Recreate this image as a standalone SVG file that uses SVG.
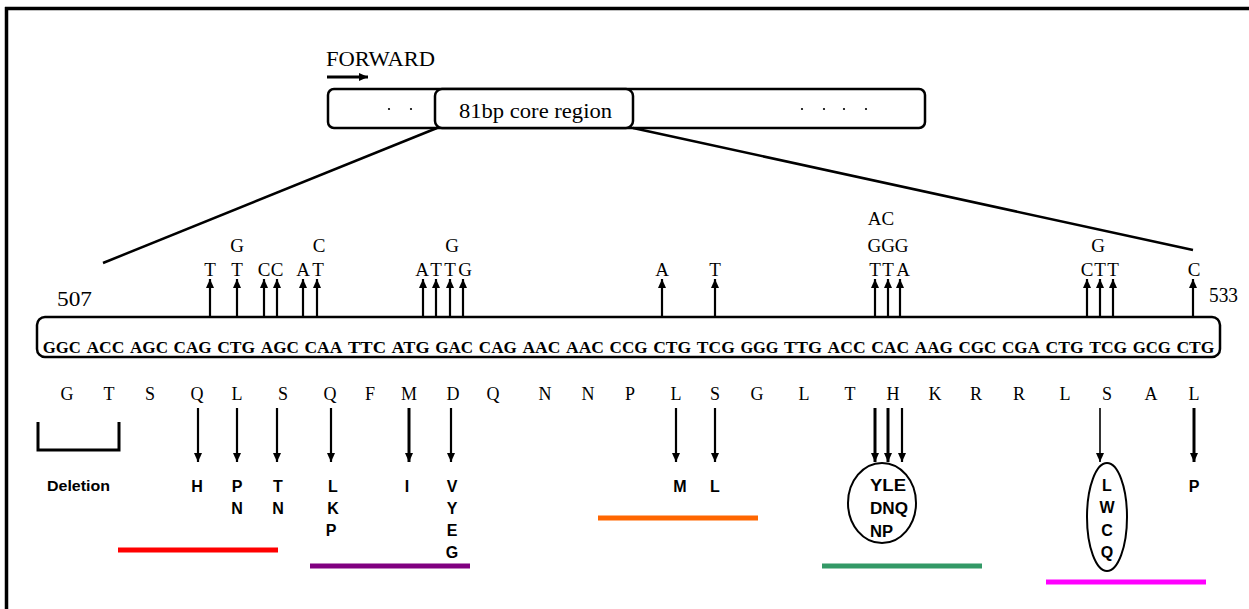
<svg xmlns="http://www.w3.org/2000/svg" width="1249" height="609" viewBox="0 0 1249 609">
<style>
.serif{font-family:"Liberation Serif","Times New Roman",serif;fill:#000}
.sans{font-family:"Liberation Sans",Arial,sans-serif;font-weight:bold;fill:#000}
.box{fill:#fff;stroke:#000;stroke-width:2.5}
.conn{stroke:#000;stroke-width:2.5;fill:none}
.arr{stroke:#000;stroke-width:2.2;fill:none}
.seq{font-family:"Liberation Serif","Times New Roman",serif;font-weight:bold;font-size:17px;text-anchor:middle}
.mut{font-size:19px;text-anchor:middle}
.aa{font-size:18px;text-anchor:middle}
.lab{font-size:16px;text-anchor:middle}
.bar{stroke-width:5}
</style>
<defs>
<marker id="ah" markerUnits="userSpaceOnUse" markerWidth="10" markerHeight="10" refX="9" refY="4" orient="auto">
<path d="M0,0 L9,4 L0,8 z" fill="#000"/>
</marker>
</defs>
<rect x="0" y="0" width="1249" height="609" fill="#fff"/>
<g id="frame">
<line x1="5" y1="8.5" x2="1249" y2="8.5" stroke="#000" stroke-width="3.5"/>
<line x1="6.5" y1="7" x2="6.5" y2="609" stroke="#000" stroke-width="3.5"/>
</g>
<g id="forward">
<text class="serif" x="326" y="66" font-size="20" textLength="109" lengthAdjust="spacingAndGlyphs">FORWARD</text>
<line x1="327" y1="77" x2="368" y2="77" stroke="#000" stroke-width="3" marker-end="url(#ah)"/>
</g>
<g id="gene-bar">
<rect class="box" x="328" y="89" width="597" height="39" rx="6"/>
<circle cx="389" cy="109" r="1.1" fill="#000"/>
<circle cx="411" cy="109" r="1.1" fill="#000"/>
<circle cx="802" cy="109" r="1.1" fill="#000"/>
<circle cx="824" cy="109" r="1.1" fill="#000"/>
<circle cx="844" cy="109" r="1.1" fill="#000"/>
<circle cx="866" cy="109" r="1.1" fill="#000"/>
</g>
<g id="core-region">
<rect class="box" x="435" y="89" width="198" height="39" rx="7"/>
<text class="serif" x="459" y="118" font-size="20" textLength="153" lengthAdjust="spacingAndGlyphs">81bp core region</text>
</g>
<g id="sequence">
<rect class="box" x="37" y="317" width="1183" height="40" rx="8"/>
<text class="serif" x="57" y="306" font-size="21" textLength="35" lengthAdjust="spacingAndGlyphs">507</text>
<text class="serif" x="1209" y="302" font-size="20" textLength="29" lengthAdjust="spacingAndGlyphs">533</text>
<g class="seq">
<text x="61.8" y="353" textLength="38" lengthAdjust="spacingAndGlyphs">GGC</text>
<text x="105.4" y="353" textLength="38" lengthAdjust="spacingAndGlyphs">ACC</text>
<text x="149" y="353" textLength="38" lengthAdjust="spacingAndGlyphs">AGC</text>
<text x="192.6" y="353" textLength="38" lengthAdjust="spacingAndGlyphs">CAG</text>
<text x="236.2" y="353" textLength="38" lengthAdjust="spacingAndGlyphs">CTG</text>
<text x="279.8" y="353" textLength="38" lengthAdjust="spacingAndGlyphs">AGC</text>
<text x="323.4" y="353" textLength="38" lengthAdjust="spacingAndGlyphs">CAA</text>
<text x="367" y="353" textLength="38" lengthAdjust="spacingAndGlyphs">TTC</text>
<text x="410.6" y="353" textLength="38" lengthAdjust="spacingAndGlyphs">ATG</text>
<text x="454.2" y="353" textLength="38" lengthAdjust="spacingAndGlyphs">GAC</text>
<text x="497.8" y="353" textLength="38" lengthAdjust="spacingAndGlyphs">CAG</text>
<text x="541.4" y="353" textLength="38" lengthAdjust="spacingAndGlyphs">AAC</text>
<text x="585" y="353" textLength="38" lengthAdjust="spacingAndGlyphs">AAC</text>
<text x="628.6" y="353" textLength="38" lengthAdjust="spacingAndGlyphs">CCG</text>
<text x="672.2" y="353" textLength="38" lengthAdjust="spacingAndGlyphs">CTG</text>
<text x="715.8" y="353" textLength="38" lengthAdjust="spacingAndGlyphs">TCG</text>
<text x="759.4" y="353" textLength="38" lengthAdjust="spacingAndGlyphs">GGG</text>
<text x="803" y="353" textLength="38" lengthAdjust="spacingAndGlyphs">TTG</text>
<text x="846.6" y="353" textLength="38" lengthAdjust="spacingAndGlyphs">ACC</text>
<text x="890.2" y="353" textLength="38" lengthAdjust="spacingAndGlyphs">CAC</text>
<text x="933.8" y="353" textLength="38" lengthAdjust="spacingAndGlyphs">AAG</text>
<text x="977.4" y="353" textLength="38" lengthAdjust="spacingAndGlyphs">CGC</text>
<text x="1021" y="353" textLength="38" lengthAdjust="spacingAndGlyphs">CGA</text>
<text x="1064.6" y="353" textLength="38" lengthAdjust="spacingAndGlyphs">CTG</text>
<text x="1108.2" y="353" textLength="38" lengthAdjust="spacingAndGlyphs">TCG</text>
<text x="1151.8" y="353" textLength="38" lengthAdjust="spacingAndGlyphs">GCG</text>
<text x="1195.4" y="353" textLength="38" lengthAdjust="spacingAndGlyphs">CTG</text>
</g>
</g>
<g id="base-mutations" class="serif mut">
<text x="210" y="276">T</text>
<text x="237" y="252">G</text>
<text x="237" y="276">T</text>
<text x="264" y="276">C</text>
<text x="277" y="276">C</text>
<text x="319" y="252">C</text>
<text x="303" y="276">A</text>
<text x="318" y="276">T</text>
<text x="452" y="252">G</text>
<text x="422" y="276">A</text>
<text x="436" y="276">T</text>
<text x="450" y="276">T</text>
<text x="465" y="276">G</text>
<text x="662" y="276">A</text>
<text x="715" y="276">T</text>
<text x="881" y="225">AC</text>
<text x="888" y="252">GGG</text>
<text x="875" y="276">T</text>
<text x="888" y="276">T</text>
<text x="903" y="276">A</text>
<text x="1098" y="252">G</text>
<text x="1087" y="276">C</text>
<text x="1100" y="276">T</text>
<text x="1113" y="276">T</text>
<text x="1194" y="276">C</text>
</g>
<g id="amino-acids" class="serif aa">
<text x="67" y="400">G</text>
<text x="109" y="400">T</text>
<text x="150" y="400">S</text>
<text x="197" y="400">Q</text>
<text x="237" y="400">L</text>
<text x="283" y="400">S</text>
<text x="330" y="400">Q</text>
<text x="370" y="400">F</text>
<text x="409" y="400">M</text>
<text x="453" y="400">D</text>
<text x="493" y="400">Q</text>
<text x="545" y="400">N</text>
<text x="588" y="400">N</text>
<text x="630" y="400">P</text>
<text x="676" y="400">L</text>
<text x="715" y="400">S</text>
<text x="757" y="400">G</text>
<text x="804" y="400">L</text>
<text x="850" y="400">T</text>
<text x="893" y="400">H</text>
<text x="935" y="400">K</text>
<text x="976" y="400">R</text>
<text x="1019" y="400">R</text>
<text x="1065" y="400">L</text>
<text x="1107" y="400">S</text>
<text x="1151" y="400">A</text>
<text x="1194" y="400">L</text>
</g>
<g id="deletion">
<path d="M38,422 V450 H119 V422" fill="none" stroke="#000" stroke-width="3"/>
<text class="sans" x="47" y="491" font-size="15" textLength="63" lengthAdjust="spacingAndGlyphs">Deletion</text>
</g>
<g id="aa-mutations" class="sans lab">
<text x="197" y="492">H</text>
<text x="237" y="492">P</text>
<text x="237" y="514">N</text>
<text x="278" y="492">T</text>
<text x="278" y="514">N</text>
<text x="333" y="492">L</text>
<text x="333" y="514">K</text>
<text x="331" y="536">P</text>
<text x="407" y="492">I</text>
<text x="452" y="492">V</text>
<text x="452" y="514">Y</text>
<text x="452" y="536">E</text>
<text x="452" y="558">G</text>
<text x="680" y="492">M</text>
<text x="715" y="492">L</text>
<text x="1194" y="492">P</text>
</g>
<g id="h-group">
<ellipse cx="882" cy="503" rx="34" ry="40" fill="none" stroke="#000" stroke-width="2"/>
<text class="sans" x="870" y="491" font-size="16" textLength="36" lengthAdjust="spacingAndGlyphs">YLE</text>
<text class="sans" x="870" y="514" font-size="16" textLength="38" lengthAdjust="spacingAndGlyphs">DNQ</text>
<text class="sans" x="870" y="537" font-size="16" textLength="23" lengthAdjust="spacingAndGlyphs">NP</text>
</g>
<g id="s-group">
<ellipse cx="1107" cy="517" rx="20" ry="54" fill="none" stroke="#000" stroke-width="2"/>
<g class="sans lab">
<text x="1107" y="491">L</text>
<text x="1107" y="513">W</text>
<text x="1107" y="536">C</text>
<text x="1107" y="558">Q</text>
</g>
</g>
<g id="regions">
<line class="bar" x1="118" y1="550" x2="278" y2="550" stroke="#FF0000"/>
<line class="bar" x1="310" y1="566" x2="470" y2="566" stroke="#800080"/>
<line class="bar" x1="598" y1="518" x2="758" y2="518" stroke="#FF6600"/>
<line class="bar" x1="822" y1="566" x2="982" y2="566" stroke="#339966"/>
<line class="bar" x1="1046" y1="582" x2="1206" y2="582" stroke="#FF00FF"/>
</g>
<g id="connectors">
<line class="conn" x1="437" y1="128" x2="103" y2="263"/>
<line class="conn" x1="633" y1="128" x2="1193" y2="250"/>
<g class="arr" marker-end="url(#ah)">
<line x1="210" y1="317" x2="210" y2="279"/>
<line x1="237" y1="317" x2="237" y2="279"/>
<line x1="264" y1="317" x2="264" y2="279"/>
<line x1="277" y1="317" x2="277" y2="279"/>
<line x1="303" y1="317" x2="303" y2="279"/>
<line x1="317" y1="317" x2="317" y2="279"/>
<line x1="423" y1="317" x2="423" y2="279"/>
<line x1="436" y1="317" x2="436" y2="279"/>
<line x1="450" y1="317" x2="450" y2="279"/>
<line x1="463" y1="317" x2="463" y2="279"/>
<line x1="662" y1="317" x2="662" y2="279"/>
<line x1="715" y1="317" x2="715" y2="279"/>
<line x1="875" y1="317" x2="875" y2="279"/>
<line x1="888" y1="317" x2="888" y2="279"/>
<line x1="900" y1="317" x2="900" y2="279"/>
<line x1="1087" y1="317" x2="1087" y2="279"/>
<line x1="1100" y1="317" x2="1100" y2="279"/>
<line x1="1113" y1="317" x2="1113" y2="279"/>
<line x1="1193" y1="317" x2="1193" y2="279"/>
<line x1="198" y1="408" x2="198" y2="462"/>
<line x1="237" y1="408" x2="237" y2="462"/>
<line x1="277" y1="408" x2="277" y2="462"/>
<line x1="331" y1="408" x2="331" y2="462"/>
<line x1="409" y1="408" x2="409" y2="462" stroke-width="3"/>
<line x1="451" y1="408" x2="451" y2="462"/>
<line x1="676" y1="408" x2="676" y2="462"/>
<line x1="715" y1="408" x2="715" y2="462"/>
<line x1="875" y1="408" x2="875" y2="462" stroke-width="3"/>
<line x1="888" y1="408" x2="888" y2="462" stroke-width="3"/>
<line x1="902" y1="408" x2="902" y2="462"/>
<line x1="1100" y1="408" x2="1100" y2="462" stroke-width="1.6"/>
<line x1="1194" y1="408" x2="1194" y2="462" stroke-width="3"/>
</g>
</g>
</svg>
